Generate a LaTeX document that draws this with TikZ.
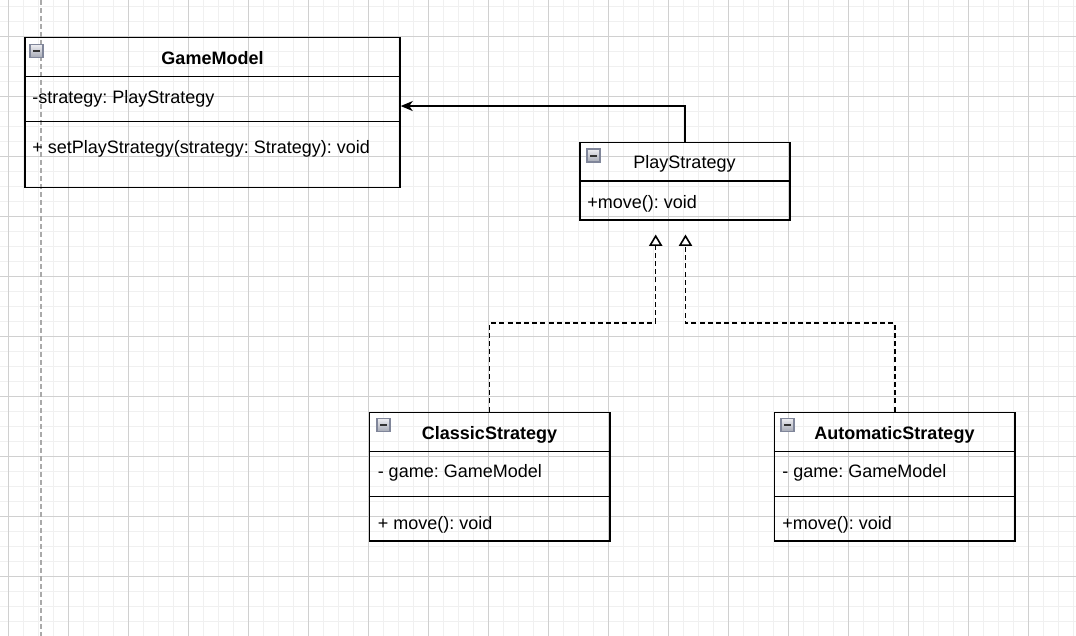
\documentclass[tikz,border=0pt]{standalone}
\usepackage{fontspec}
\setmainfont{Liberation Sans}
\usetikzlibrary{arrows.meta,fit}
\frenchspacing
\definecolor{minorgrid}{HTML}{F0F0F0}
\definecolor{majorgrid}{HTML}{D0D0D0}
\definecolor{pageline}{HTML}{AAAAAA}
\definecolor{iconedge}{HTML}{80869A}
\definecolor{icontop}{HTML}{EEEEF2}
\definecolor{iconbot}{HTML}{A5A9B5}
\newcommand\umlicon[2]{%
  \shade[top color=icontop,bottom color=iconbot,draw=iconedge,line width=0.8pt] (#1,#2) rectangle ++(13,13);
  \draw[line width=1.5pt,color=black!80] (#1+3,#2+6.5) -- (#1+10,#2+6.5);
}
\begin{document}
\begin{tikzpicture}[x=0.75pt,y=-0.75pt,
  font=\fontsize{13.5pt}{16pt}\selectfont\frenchspacing,
  umlbox/.style={draw=black,line width=1.1pt,inner sep=0pt},
  compsep/.style={draw=black,line width=1.1pt},
  titletext/.style={anchor=base,inner sep=0pt,font=\fontsize{13.5pt}{16pt}\selectfont\bfseries},
  plaintitle/.style={anchor=base,inner sep=0pt},
  member/.style={anchor=base west,inner sep=0pt},
  assoc/.style={line width=1.1pt,-{Stealth[length=9pt,width=7.5pt,inset=2.6pt]}},
  realize/.style={line width=1.1pt,dash pattern=on 3.75pt off 2.4pt,
    -{Triangle[open,length=8.6pt,width=10pt,line width=1.2pt]}}
]
\useasboundingbox (0,0) rectangle (1076,636);
\fill[white] (0,0) rectangle (1076,636);
% grid
\foreach \k in {0,...,71} \draw[minorgrid,line width=0.75pt] (8+15*\k,0) -- (8+15*\k,636);
\foreach \k in {0,...,42} \draw[minorgrid,line width=0.75pt] (0,6+15*\k) -- (1076,6+15*\k);
\foreach \k in {0,...,17} \draw[majorgrid,line width=0.7pt] (8+60*\k,0) -- (8+60*\k,636);
\foreach \k in {0,...,10} \draw[majorgrid,line width=0.7pt] (0,36+60*\k) -- (1076,36+60*\k);
% page break line
\draw[pageline,line width=1.5pt,dash pattern=on 3.6pt off 2.4pt] (40.5,0) -- (40.5,636);

% GameModel
\node[umlbox,fit={(25,37.3)(400,187.3)}] (gm) {};
\draw[compsep] (gm.west |- 0,76.3) -- (gm.east |- 0,76.3);
\draw[compsep] (gm.west |- 0,121.3) -- (gm.east |- 0,121.3);
\umlicon{30}{44.5}
\node[titletext] (gmT) at (212.5,64) {GameModel};
\node[member] (gmA) at (32,103.3) {-strategy: PlayStrategy};
\node[member] (gmM) at (32,153.3) {+ setPlayStrategy(strategy: Strategy): void};

% PlayStrategy
\node[umlbox,fit={(580,142.3)(790,220)}] (ps) {};
\draw[compsep] (ps.west |- 0,181) -- (ps.east |- 0,181);
\umlicon{587}{149}
\node[plaintitle] (psT) at (684.5,168.7) {PlayStrategy};
\node[member] (psM) at (587,208.3) {+move(): void};

% ClassicStrategy
\node[umlbox,fit={(369.3,412.3)(610,541)}] (cs) {};
\draw[compsep] (cs.west |- 0,451.7) -- (cs.east |- 0,451.7);
\draw[compsep] (cs.west |- 0,496.7) -- (cs.east |- 0,496.7);
\umlicon{377}{418.5}
\node[titletext] (csT) at (489.5,439.3) {ClassicStrategy};
\node[member] (csA) at (377.5,477.3) {- game: GameModel};
\node[member] (csM) at (377.5,529) {+ move(): void};

% AutomaticStrategy
\node[umlbox,fit={(774.7,412.3)(1015,541)}] (as) {};
\draw[compsep] (as.west |- 0,451.7) -- (as.east |- 0,451.7);
\draw[compsep] (as.west |- 0,496.7) -- (as.east |- 0,496.7);
\umlicon{781}{418.5}
\node[titletext] (asT) at (894.5,439.3) {AutomaticStrategy};
\node[member] (asA) at (782,477.3) {- game: GameModel};
\node[member] (asM) at (782,529) {+move(): void};

% connectors
\draw[assoc] (ps.north) |- ([yshift=4.7pt]gm.east);
\coordinate (t1) at (655.7,234.5);
\coordinate (t2) at (685.5,234.5);
\draw[realize] (cs.north) |- (t1 |- 0,323) -- (t1);
\draw[realize] (as.north) |- (t2 |- 0,323) -- (t2);
\end{tikzpicture}
\end{document}
